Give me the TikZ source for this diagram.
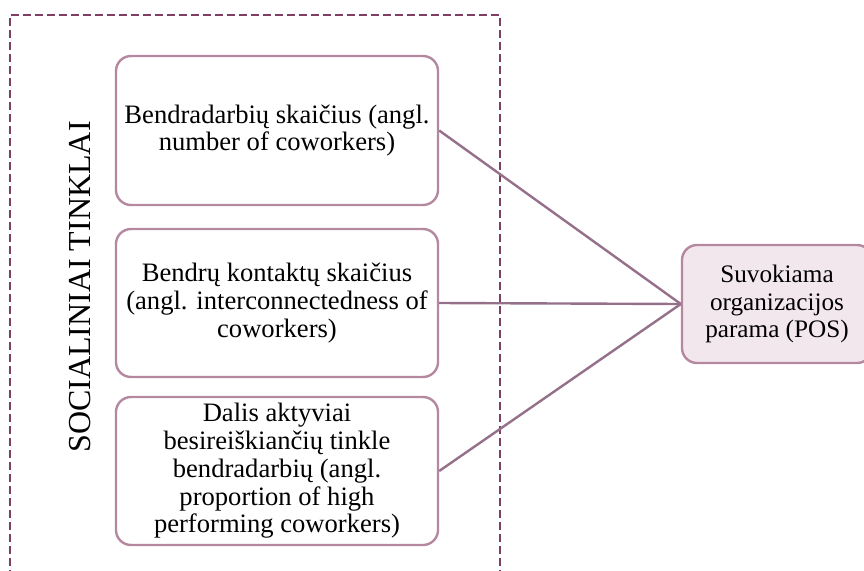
\documentclass[tikz,border=0pt]{standalone}
\usepackage{fontspec}
\setmainfont{Liberation Serif}
\definecolor{framecol}{HTML}{7D4062}
\definecolor{boxcol}{HTML}{B4889F}
\definecolor{linkcol}{HTML}{94708A}
\definecolor{posfill}{HTML}{F3E7EE}
\begin{document}
\begin{tikzpicture}[x=1pt,y=-1pt,
  factor/.style={draw=boxcol, line width=2.4pt, rounded corners=15pt, fill=white,
    minimum width=322pt, inner sep=0pt, align=center,
    font=\fontsize{26.6}{27.8}\selectfont},
  outcome/.style={factor, fill=posfill, font=\fontsize{25.2}{27.5}\selectfont},
  link/.style={draw=linkcol, line width=2.4pt}]
\useasboundingbox (0,0) rectangle (864,570);
\clip (0,0) rectangle (864,570);

% group frame
\draw[framecol, line width=2.6pt, dash pattern=on 8pt off 4pt]
  (10,590) -- (10,15) -- (500,15) -- (500,590);
\node[rotate=90, font=\fontsize{32}{36}\selectfont] (group) at (80,287) {SOCIALINIAI TINKLAI};

% factors
\node[factor, minimum height=149pt] (f1) at (277,130.5)
  {Bendradarbių skaičius (angl.\\number of coworkers)};
\node[factor, minimum height=148pt] (f2) at (277,303)
  {Bendrų kontaktų skaičius\\(angl. interconnectedness of\\coworkers)};
\node[factor, minimum height=148pt] (f3) at (277,471)
  {Dalis aktyviai\\besireiškiančių tinkle\\bendradarbių (angl.\\proportion of high\\performing coworkers)};

% outcome
\node[outcome, minimum width=190pt, minimum height=118pt] (pos) at (777,304)
  {Suvokiama\\organizacijos\\parama (POS)};

% links
\draw[link] (f1.east) -- (pos.west);
\draw[link] (f2.east) -- (pos.west);
\draw[link] (f3.east) -- (pos.west);
\end{tikzpicture}
\end{document}
